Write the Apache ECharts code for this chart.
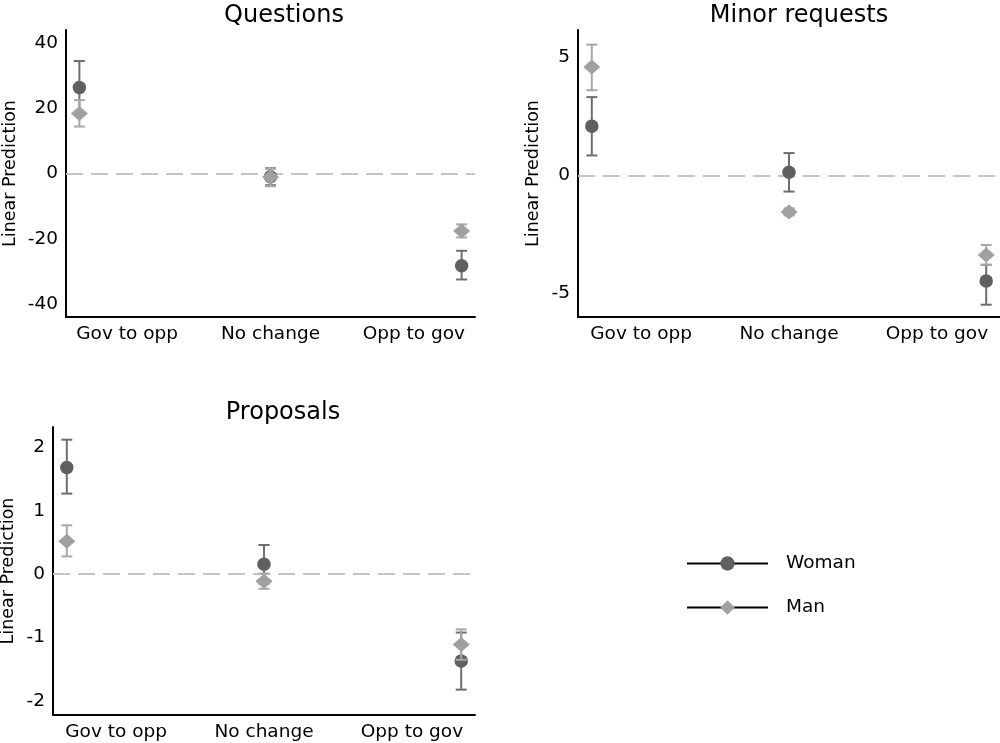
<!DOCTYPE html>
<html>
<head>
<meta charset="utf-8">
<script src="https://cdn.jsdelivr.net/npm/echarts@6/dist/echarts.min.js"></script>
<style>html,body{margin:0;padding:0;background:#fff;}#c{width:1000px;height:743px;}</style>
</head>
<body>
<div id="c"></div>
<script>
// ---- Data ----
const categories = ['Gov to opp', 'No change', 'Opp to gov'];
const panelTitles = ['Questions', 'Minor requests', 'Proposals'];
const seriesNames = ['Woman', 'Man'];

// Questions
const womanQ   = [26.4, -1.0, -28.3];
const womanQLo = [18.3, -3.6, -32.5];
const womanQHi = [34.5,  1.6, -23.7];
const manQ     = [18.4, -1.1, -17.6];
const manQLo   = [14.4, -3.9, -19.6];
const manQHi   = [22.5,  1.4, -15.6];

// Minor requests
const womanM   = [2.08,  0.13, -4.48];
const womanMLo = [0.84, -0.69, -5.48];
const womanMHi = [3.31,  0.94, -3.79];
const manM     = [4.58, -1.55, -3.37];
const manMLo   = [3.60, -1.70, -3.79];
const manMHi   = [5.53, -1.40, -2.95];

// Proposals
const womanP   = [1.68,  0.155, -1.37];
const womanPLo = [1.27, -0.15, -1.82];
const womanPHi = [2.12,  0.46, -0.92];
const manP     = [0.52, -0.11, -1.11];
const manPLo   = [0.28, -0.23, -1.35];
const manPHi   = [0.77,  0.01, -0.87];

// tick labels
const yTicksQ = [-40, -20, 0, 20, 40];
const yTicksM = [-5, 0, 5];
const yTicksP = [-2, -1, 0, 1, 2];

// ---- Build ----
const FONT = 'DejaVu Sans';
const WOMAN_MARK = '#606060', WOMAN_BAR = '#6e6e6e';
const MAN_MARK = '#a0a0a0', MAN_BAR = '#a8a8a8';

const panels = [
  { w: womanQ, wl: womanQLo, wh: womanQHi, m: manQ, ml: manQLo, mh: manQHi, ticks: yTicksQ, ymin: -44, ymax: 44,
    grid: { left: 66, top: 30, width: 409, height: 287 }, nameGap: 47, title: [279, -1] },
  { w: womanM, wl: womanMLo, wh: womanMHi, m: manM, ml: manMLo, mh: manMHi, ticks: yTicksM, ymin: -6.0, ymax: 6.15,
    grid: { left: 578, top: 30, width: 422, height: 287 }, nameGap: 36, title: [794, -1] },
  { w: womanP, wl: womanPLo, wh: womanPHi, m: manP, ml: manPLo, mh: manPHi, ticks: yTicksP, ymin: -2.22, ymax: 2.32,
    grid: { left: 53, top: 427, width: 422, height: 288 }, nameGap: 36, title: [278, 396] }
];

const xPos = categories.map((c, i) => i + 1);
const xLabelPos = [1.25, 2, 2.75];

function errRender(color) {
  return function (params, api) {
    const x = api.value(0);
    const p1 = api.coord([x, api.value(1)]);
    const p2 = api.coord([x, api.value(2)]);
    const cap = 5.5;
    const st = { stroke: color, lineWidth: 2 };
    return {
      type: 'group',
      children: [
        { type: 'line', shape: { x1: p1[0], y1: p1[1], x2: p2[0], y2: p2[1] }, style: st },
        { type: 'line', shape: { x1: p1[0] - cap, y1: p1[1], x2: p1[0] + cap, y2: p1[1] }, style: st },
        { type: 'line', shape: { x1: p2[0] - cap, y1: p2[1], x2: p2[0] + cap, y2: p2[1] }, style: st }
      ]
    };
  };
}

const grids = [], xAxes = [], yAxes = [], series = [], titles = [];
panels.forEach((p, k) => {
  grids.push(Object.assign({ outerBoundsMode: 'none', containLabel: false }, p.grid));
  xAxes.push({
    type: 'value', gridIndex: k, min: 0.93, max: 3.07,
    axisLine: { show: true, onZero: false, lineStyle: { color: '#000', width: 2 } },
    axisTick: { show: false }, splitLine: { show: false },
    axisLabel: {
      customValues: xLabelPos, margin: 8, color: '#000', fontFamily: FONT, fontSize: 18.5,
      formatter: v => { const i = xLabelPos.findIndex(q => Math.abs(q - v) < 1e-6); return i >= 0 ? categories[i] : ''; }
    }
  });
  yAxes.push({
    type: 'value', gridIndex: k, min: p.ymin, max: p.ymax,
    name: 'Linear Prediction', nameLocation: 'middle', nameGap: p.nameGap,
    nameTextStyle: { color: '#000', fontFamily: FONT, fontSize: 17.5 },
    axisLine: { show: true, onZero: false, lineStyle: { color: '#000', width: 2 } },
    axisTick: { show: false }, splitLine: { show: false },
    axisLabel: { customValues: p.ticks, margin: 8, color: '#000', fontFamily: FONT, fontSize: 18.5 }
  });
  titles.push({
    text: panelTitles[k], left: p.title[0], top: p.title[1], textAlign: 'center',
    textStyle: { color: '#000', fontFamily: FONT, fontSize: 24, fontWeight: 'normal' }
  });
  series.push({
    type: 'custom', xAxisIndex: k, yAxisIndex: k, renderItem: errRender(WOMAN_BAR),
    data: xPos.map((x, i) => [x, p.wl[i], p.wh[i]]), z: 3, silent: true,
    markLine: {
      silent: true, symbol: 'none', label: { show: false },
      lineStyle: { color: '#c4c4c4', width: 2, type: [17, 8] },
      data: [{ yAxis: 0 }], z: 1
    }
  });
  series.push({
    type: 'scatter', name: 'Woman', xAxisIndex: k, yAxisIndex: k, symbol: 'circle', symbolSize: 13.5,
    itemStyle: { color: WOMAN_MARK, opacity: 1 }, data: xPos.map((x, i) => [x, p.w[i]]), z: 4
  });
  series.push({
    type: 'custom', xAxisIndex: k, yAxisIndex: k, renderItem: errRender(MAN_BAR),
    data: xPos.map((x, i) => [x, p.ml[i], p.mh[i]]), z: 5, silent: true
  });
  series.push({
    type: 'scatter', name: 'Man', xAxisIndex: k, yAxisIndex: k, symbol: 'diamond', symbolSize: [17, 15],
    itemStyle: { color: MAN_MARK, opacity: 1 }, data: xPos.map((x, i) => [x, p.m[i]]), z: 6
  });
});

// legend proxy series
const legendSeries = [
  { type: 'line', name: seriesNames[0], xAxisIndex: 0, yAxisIndex: 0, data: [], symbol: 'circle',
    lineStyle: { color: '#000', width: 2 }, itemStyle: { color: WOMAN_MARK } },
  { type: 'line', name: seriesNames[1], xAxisIndex: 0, yAxisIndex: 0, data: [], symbol: 'diamond',
    lineStyle: { color: '#000', width: 2 }, itemStyle: { color: MAN_MARK } }
];

const chart = echarts.init(document.getElementById('c'), null, { renderer: 'canvas' });
chart.setOption({
  animation: false,
  backgroundColor: '#fff',
  title: titles,
  grid: grids,
  xAxis: xAxes,
  yAxis: yAxes,
  legend: {
    data: seriesNames, orient: 'vertical', left: 681, top: 549,
    itemWidth: 81, itemHeight: 18, itemGap: 25,
    lineStyle: { color: '#000', width: 2, opacity: 1 },
    textStyle: { color: '#000', fontFamily: FONT, fontSize: 18.5, padding: [0, 0, 0, 13] },
    selectedMode: false
  },
  series: legendSeries.concat(series)
});
</script>
</body>
</html>
